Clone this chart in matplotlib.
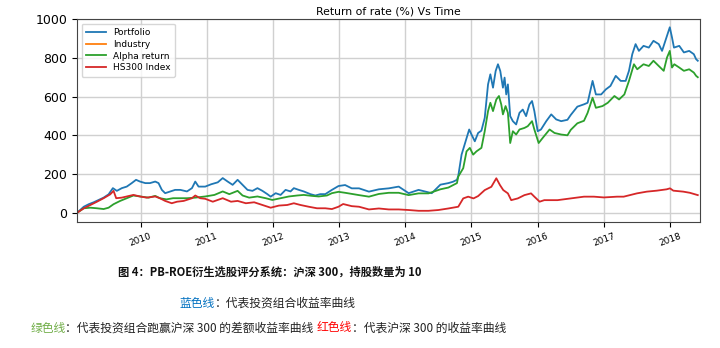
import numpy as np
import pandas as pd
import matplotlib
matplotlib.use('Agg')
import matplotlib.pyplot as plt
import matplotlib.dates as mdates

plt.rcParams['font.family'] = ['DejaVu Sans']

# values (decimal year, return %)
pf_t = [2009.04, 2009.14, 2009.215, 2009.29, 2009.365, 2009.44, 2009.515, 2009.58, 2009.64, 2009.715,
        2009.79, 2009.865, 2009.93, 2009.99, 2010.07, 2010.14, 2010.22, 2010.27, 2010.32, 2010.37,
        2010.45, 2010.52, 2010.6, 2010.7, 2010.775, 2010.825, 2010.875, 2010.975, 2011.065, 2011.165,
        2011.24, 2011.315, 2011.39, 2011.465, 2011.54, 2011.615, 2011.69, 2011.765, 2011.84, 2011.915,
        2011.965, 2012.04, 2012.115, 2012.19, 2012.265, 2012.315, 2012.39, 2012.465, 2012.565, 2012.64,
        2012.715, 2012.79, 2012.89, 2012.99, 2013.09, 2013.19, 2013.30, 2013.45, 2013.6, 2013.75,
        2013.9, 2014.05, 2014.2, 2014.4, 2014.53, 2014.65, 2014.72, 2014.78, 2014.80, 2014.85,
        2014.925, 2014.965, 2015.0, 2015.05, 2015.10, 2015.15, 2015.2, 2015.25, 2015.285, 2015.325,
        2015.365, 2015.40, 2015.435, 2015.475, 2015.5, 2015.525, 2015.55, 2015.585, 2015.625, 2015.675,
        2015.725, 2015.775, 2015.825, 2015.875, 2015.915, 2015.95, 2016.0, 2016.05, 2016.13, 2016.205,
        2016.28, 2016.355, 2016.45, 2016.5, 2016.6, 2016.7, 2016.755, 2016.83, 2016.88, 2016.96,
        2017.03, 2017.1, 2017.18, 2017.255, 2017.33, 2017.38, 2017.43, 2017.48, 2017.53, 2017.6,
        2017.68, 2017.75, 2017.83, 2017.88, 2017.93, 2017.997, 2018.03, 2018.06, 2018.14, 2018.21,
        2018.29, 2018.36, 2018.395, 2018.42]
pf_v = [0, 31, 44, 54, 66, 78, 95, 127, 113, 127,
        135, 153, 170, 161, 153, 153, 161, 153, 118, 101,
        110, 118, 118, 110, 127, 161, 135, 135, 147, 157,
        179, 161, 144, 170, 144, 118, 113, 127, 113, 96,
        83, 101, 92, 118, 110, 127, 118, 110, 96, 89,
        96, 96, 118, 138, 143, 126, 126, 109, 121, 126,
        135, 101, 118, 101, 145, 153, 160, 170, 190, 300,
        386, 430, 404, 369, 412, 424, 490, 663, 715, 646,
        732, 767, 732, 646, 698, 611, 663, 499, 473, 456,
        516, 533, 499, 559, 577, 525, 421, 430, 473, 508,
        482, 473, 480, 505, 548, 560, 568, 681, 611, 611,
        637, 655, 707, 681, 681, 733, 819, 871, 836, 862,
        853, 888, 871, 836, 888, 958, 906, 853, 862, 828,
        836, 819, 793, 785]

al_t = [2009.04, 2009.14, 2009.24, 2009.34, 2009.44, 2009.515, 2009.59, 2009.69, 2009.79, 2009.89,
        2009.99, 2010.12, 2010.22, 2010.29, 2010.39, 2010.49, 2010.6, 2010.7, 2010.825, 2010.975,
        2011.115, 2011.24, 2011.34, 2011.465, 2011.54, 2011.64, 2011.765, 2011.89, 2011.99, 2012.115,
        2012.24, 2012.365, 2012.465, 2012.59, 2012.69, 2012.815, 2012.89, 2012.99, 2013.09, 2013.30,
        2013.45, 2013.6, 2013.75, 2013.9, 2014.05, 2014.2, 2014.35, 2014.53, 2014.65, 2014.78,
        2014.80, 2014.875, 2014.925, 2014.975, 2015.025, 2015.075, 2015.15, 2015.2, 2015.25, 2015.285,
        2015.325, 2015.375, 2015.415, 2015.45, 2015.475, 2015.515, 2015.55, 2015.585, 2015.625, 2015.675,
        2015.725, 2015.8, 2015.85, 2015.915, 2015.95, 2016.015, 2016.075, 2016.18, 2016.255, 2016.355,
        2016.45, 2016.5, 2016.6, 2016.7, 2016.755, 2016.83, 2016.88, 2016.98, 2017.06, 2017.16,
        2017.23, 2017.31, 2017.38, 2017.455, 2017.505, 2017.6, 2017.68, 2017.75, 2017.83, 2017.905,
        2017.955, 2017.997, 2018.03, 2018.065, 2018.14, 2018.21, 2018.29, 2018.36, 2018.395, 2018.42]
al_v = [0, 23, 26, 23, 19, 26, 44, 61, 75, 89,
        84, 78, 87, 75, 69, 75, 75, 75, 78, 84,
        92, 110, 96, 113, 89, 78, 84, 75, 66, 75,
        84, 89, 92, 87, 84, 89, 101, 108, 103, 91,
        83, 97, 103, 103, 91, 100, 100, 121, 130, 153,
        187, 230, 317, 335, 300, 317, 335, 421, 525, 568,
        525, 585, 603, 559, 508, 551, 516, 360, 421, 404,
        430, 438, 447, 473, 430, 360, 386, 430, 412, 404,
        400, 428, 462, 475, 516, 594, 542, 551, 568, 603,
        585, 611, 681, 767, 741, 767, 758, 785, 758, 733,
        802, 836, 750, 767, 750, 733, 741, 724, 707, 700]

hs_t = [2009.04, 2009.14, 2009.24, 2009.34, 2009.44, 2009.54, 2009.59, 2009.63, 2009.715, 2009.79,
        2009.89, 2009.99, 2010.09, 2010.22, 2010.29, 2010.37, 2010.47, 2010.55, 2010.65, 2010.775,
        2010.825, 2010.9, 2010.975, 2011.09, 2011.24, 2011.365, 2011.465, 2011.59, 2011.715, 2011.84,
        2011.965, 2012.09, 2012.215, 2012.315, 2012.415, 2012.54, 2012.665, 2012.79, 2012.89, 2012.99,
        2013.06, 2013.19, 2013.30, 2013.45, 2013.6, 2013.75, 2013.9, 2014.05, 2014.2, 2014.35,
        2014.5, 2014.65, 2014.8, 2014.875, 2014.95, 2015.03, 2015.1, 2015.2, 2015.3, 2015.375,
        2015.43, 2015.48, 2015.55, 2015.6, 2015.7, 2015.8, 2015.9, 2015.95, 2016.03, 2016.1,
        2016.3, 2016.5, 2016.7, 2016.85, 2017.0, 2017.2, 2017.3, 2017.5, 2017.65, 2017.8,
        2017.95, 2018.0, 2018.05, 2018.2, 2018.3, 2018.42]
hs_v = [0, 23, 40, 57, 75, 95, 113, 75, 78, 84,
        92, 84, 78, 84, 75, 61, 49, 57, 61, 75,
        89, 75, 72, 57, 75, 57, 61, 49, 54, 40,
        26, 37, 40, 49, 40, 31, 23, 23, 19, 31,
        45, 34, 31, 17, 22, 17, 17, 14, 10, 10,
        14, 22, 31, 74, 83, 74, 86, 117, 134, 178,
        143, 117, 100, 65, 74, 91, 100, 83, 57, 65,
        65, 74, 83, 83, 79, 83, 83, 100, 109, 114,
        121, 126, 114, 109, 103, 91]

industry_t = []
industry_v = []


def to_dates(years):
    return [pd.Timestamp('2009-01-01') + pd.Timedelta(days=(y - 2009) * 365.25) for y in years]


fig = plt.figure(figsize=(7.2, 3.48), dpi=100)
ax = fig.add_axes([0.107, 0.362, 0.865, 0.583])

ax.plot(to_dates(pf_t), pf_v, color='#1f77b4', lw=1.3, label='Portfolio')
ax.plot(to_dates(industry_t), industry_v, color='#ff7f0e', lw=1.3, label='Industry')
ax.plot(to_dates(al_t), al_v, color='#2ca02c', lw=1.3, label='Alpha return')
ax.plot(to_dates(hs_t), hs_v, color='#d62728', lw=1.3, label='HS300 Index')

ax.set_xlim(pd.Timestamp('2009-01-15'), pd.Timestamp('2018-06-15'))
ax.set_ylim(-48, 1000)
ax.set_yticks([0, 200, 400, 600, 800, 1000])
ax.xaxis.set_major_locator(mdates.YearLocator())
ax.xaxis.set_major_formatter(mdates.DateFormatter('%Y'))
ax.grid(True, color='#d0d0d0', lw=1)
ax.tick_params(axis='y', labelsize=9)
ax.tick_params(axis='x', labelsize=6.5)
for lab in ax.get_xticklabels():
    lab.set_rotation(20)
    lab.set_ha('center')
for s in ax.spines.values():
    s.set_color('#444444')
ax.set_title('Return of rate (%) Vs Time', fontsize=7.8, pad=3)
ax.legend(loc='upper left', fontsize=6.5, handlelength=2.2, borderpad=0.5, labelspacing=0.3)

# caption under the chart, drawn piece by piece so each part keeps its colour
cjk = ['Noto Sans CJK SC', 'DejaVu Sans']
fig.canvas.draw()
renderer = fig.canvas.get_renderer()


def caption_line(parts, xc, y, size, weight='normal'):
    texts = []
    for s, c in parts:
        t = fig.text(0, y, s, color=c, fontsize=size, family=cjk, weight=weight, va='center', ha='left')
        texts.append(t)
    widths = [t.get_window_extent(renderer).width for t in texts]
    x = xc - sum(widths) / 2
    for t, w in zip(texts, widths):
        t.set_x(x / fig.bbox.width)
        x += w


caption_line([('图 4：PB-ROE衍生选股评分系统：沪深 300，持股数量为 10', '#111111')], 270, 1 - 272 / 348, 8.1, 'bold')
caption_line([('蓝色线', '#0070c0'), ('：代表投资组合收益率曲线', '#222222')], 268, 1 - 303 / 348, 8.5)
caption_line([('绿色线', '#70ad47'), ('：代表投资组合跑赢沪深 300 的差额收益率曲线 ', '#222222'),
              ('红色线', '#ff0000'), ('：代表沪深 300 的收益率曲线', '#222222')], 268, 1 - 328 / 348, 8.5)

fig.savefig('out.png', dpi=100)
